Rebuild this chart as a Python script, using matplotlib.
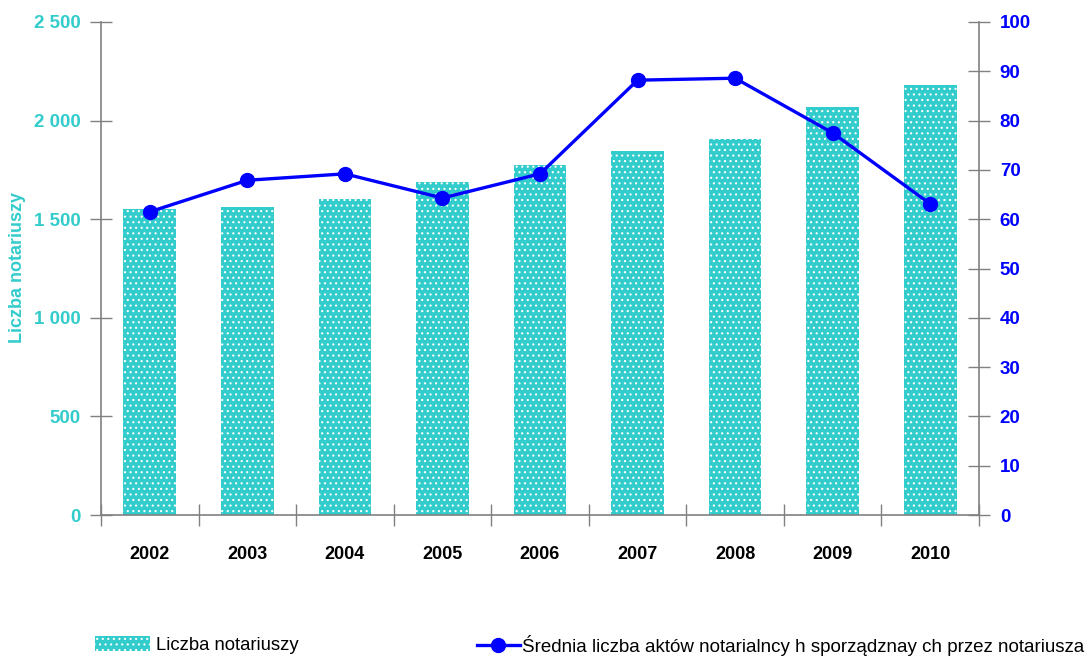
import matplotlib
matplotlib.use("Agg")
import matplotlib.pyplot as plt
from matplotlib.patches import Patch
from matplotlib.lines import Line2D

years = ["2002", "2003", "2004", "2005", "2006", "2007", "2008", "2009", "2010"]
notaries = [1550, 1560, 1600, 1690, 1775, 1845, 1905, 2070, 2180]
avg_acts = [61.5, 67.9, 69.2, 64.3, 69.2, 88.2, 88.6, 77.5, 63.1]
left_ticks = [0, 500, 1000, 1500, 2000, 2500]
left_labels = ["0", "500", "1 000", "1 500", "2 000", "2 500"]
right_ticks = [0, 10, 20, 30, 40, 50, 60, 70, 80, 90, 100]

bar_label = "Liczba notariuszy"
line_label = "Średnia liczba aktów notarialncy h sporządznay ch przez notariusza"

plt.rcParams['font.family'] = ['Liberation Sans', 'DejaVu Sans']
plt.rcParams['hatch.linewidth'] = 0.8

TURQ = "#33CCCC"
BLUE = "#0000FF"
GREY = "#808080"

fig = plt.figure(figsize=(10.9, 6.6), dpi=100)
ax = fig.add_axes([101/1090, 1-515/660, (979-101)/1090, (515-22)/660])
x = list(range(len(years)))
ax.bar(x, notaries, width=0.54, color=TURQ, edgecolor="white", linewidth=0, hatch="...", zorder=2)
ax.set_xlim(-0.5, len(years)-0.5)
ax.set_ylim(0, 2500)
ax.set_yticks(left_ticks)
ax.set_yticklabels(left_labels)
ax.set_xticks([i-0.5 for i in range(len(years)+1)])
ax.set_xticklabels([])
ax.set_xticks(x, minor=True)
ax.set_xticklabels(years, minor=True)
ax.tick_params(axis='x', which='major', direction='inout', length=16, width=1, color=GREY)
ax.tick_params(axis='x', which='minor', length=0, pad=22, labelsize=13)
for lab in ax.get_xticklabels(minor=True):
    lab.set_fontweight('bold')
ax.tick_params(axis='y', direction='inout', length=16, width=1, color=GREY, labelcolor=TURQ, labelsize=13.5, pad=6.5)
for lab in ax.get_yticklabels():
    lab.set_fontweight('bold')
ax.spines['top'].set_visible(False)
ax.spines['right'].set_visible(False)
for s in ['left', 'bottom']:
    ax.spines[s].set_color(GREY)
    ax.spines[s].set_linewidth(1.2)
fig.text(18/1090, 1-268/660, bar_label, color=TURQ, fontsize=13, fontweight='bold',
         rotation=90, ha='center', va='center')

ax2 = ax.twinx()
ax2.plot(x, avg_acts, color=BLUE, linewidth=2.4, marker='o', markersize=10, zorder=3)
ax2.set_ylim(0, 100)
ax2.set_yticks(right_ticks)
ax2.tick_params(axis='y', direction='inout', length=16, width=1, color=GREY, labelcolor=BLUE, labelsize=13.5, pad=7)
for lab in ax2.get_yticklabels():
    lab.set_fontweight('bold')
for s in ['top', 'left', 'bottom']:
    ax2.spines[s].set_visible(False)
ax2.spines['right'].set_color(GREY)
ax2.spines['right'].set_linewidth(1.2)

h1 = Patch(facecolor=TURQ, edgecolor="white", linewidth=0, hatch="...")
h2 = Line2D([0], [0], color=BLUE, linewidth=2.4, marker='o', markersize=10)
fig.legend([h1], [bar_label], loc='center left', bbox_to_anchor=(78/1090, 1-645/660),
           frameon=False, fontsize=13.3, handlelength=3.0, handleheight=0.9, handletextpad=0.3)
fig.legend([h2], [line_label], loc='center left', bbox_to_anchor=(460/1090, 1-645/660),
           frameon=False, fontsize=13.5, handlelength=2.3, handletextpad=0.1)

fig.savefig("out.png", dpi=100)
